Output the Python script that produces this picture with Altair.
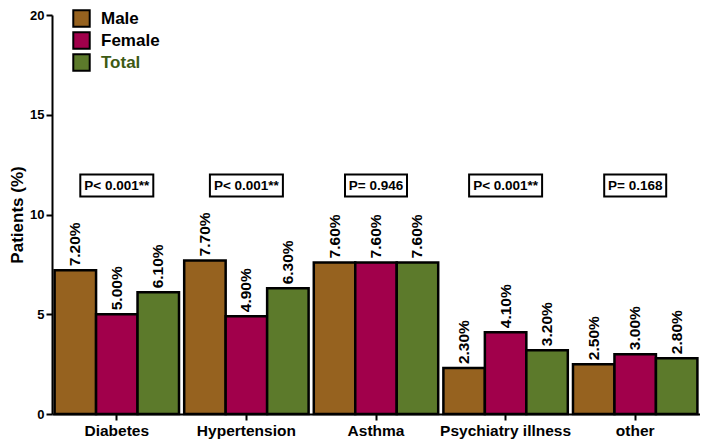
import altair as alt
import pandas as pd

categories = ["Diabetes", "Hypertension", "Asthma", "Psychiatry illness", "other"]
groups = ["Male", "Female", "Total"]
male = [7.2, 7.7, 7.6, 2.3, 2.5]
female = [5.0, 4.9, 7.6, 4.1, 3.0]
total = [6.1, 6.3, 7.6, 3.2, 2.8]
p_values = ["P< 0.001**", "P< 0.001**", "P= 0.946", "P< 0.001**", "P= 0.168"]
y_ticks = [0, 5, 10, 15, 20]

colors = ["#96621f", "#a1004b", "#5c7a2b"]
FONT = "Liberation Sans"

# annotation level of the p-value boxes (data units)
P_LOW, P_MID, P_HIGH = 10.9, 11.45, 12.0

rows = []
for i, c in enumerate(categories):
    for g, vals in zip(groups, [male, female, total]):
        rows.append({"category": c, "group": g, "value": vals[i]})
df = pd.DataFrame(rows)
pdf = pd.DataFrame({"category": categories, "p": p_values})

x_enc = alt.X(
    "category:N",
    sort=categories,
    scale=alt.Scale(paddingInner=0.04, paddingOuter=0.02),
    axis=alt.Axis(
        title=None, labelAngle=0, labelFont=FONT, labelFontSize=15.5,
        labelFontWeight="bold", labelColor="black", labelPadding=3,
        domainColor="black", domainWidth=2, tickColor="black", tickWidth=2,
        tickSize=6,
    ),
)
y_scale = alt.Scale(domain=[0, 20], nice=False)

bars = alt.Chart(df).mark_bar(stroke="black", strokeWidth=2.5).encode(
    x=x_enc,
    xOffset=alt.XOffset("group:N", sort=groups, scale=alt.Scale(paddingInner=0, paddingOuter=0)),
    y=alt.Y(
        "value:Q", scale=y_scale,
        axis=alt.Axis(
            title="Patients (%)", values=y_ticks, grid=False, titleFont=FONT,
            titleFontSize=17, titleFontWeight="bold", titleColor="black",
            titlePadding=3, labelFont=FONT, labelFontSize=13,
            labelFontWeight="bold", labelColor="black", labelPadding=2,
            domainColor="black", domainWidth=2, tickColor="black",
            tickWidth=2, tickSize=6,
        ),
    ),
    color=alt.Color(
        "group:N", sort=groups,
        scale=alt.Scale(domain=groups, range=colors),
        legend=alt.Legend(
            title=None, orient="none", legendX=20, legendY=-6, padding=0,
            symbolType="square", symbolSize=270, symbolStrokeColor="black",
            symbolStrokeWidth=2, symbolOpacity=1, labelFont=FONT,
            labelFontSize=17, labelFontWeight="bold",
            labelColor=alt.ExprRef("datum.label == 'Total' ? '#3d5a14' : 'black'"),
            labelOffset=10, rowPadding=-3,
        ),
    ),
)

labels = alt.Chart(df).transform_calculate(
    lab="format(datum.value, '.2f') + '%'"
).mark_text(
    angle=270, align="left", baseline="middle", dx=4, font=FONT,
    fontSize=15.5, fontWeight="bold", color="black",
).encode(
    x=alt.X("category:N", sort=categories),
    xOffset=alt.XOffset("group:N", sort=groups),
    y=alt.Y("value:Q", scale=y_scale),
    text="lab:N",
)

box_wide = alt.Chart(pdf).transform_filter("indexof(datum.p, '<') >= 0").mark_bar(
    width=73, fill="white", stroke="black", strokeWidth=2
).encode(
    x=alt.X("category:N", sort=categories),
    y=alt.datum(P_LOW), y2=alt.datum(P_HIGH),
)
box_narrow = alt.Chart(pdf).transform_filter("indexof(datum.p, '<') < 0").mark_bar(
    width=62, fill="white", stroke="black", strokeWidth=2
).encode(
    x=alt.X("category:N", sort=categories),
    y=alt.datum(P_LOW), y2=alt.datum(P_HIGH),
)
ptext = alt.Chart(pdf).mark_text(
    font=FONT, fontSize=13.5, fontWeight="bold", color="black", baseline="middle"
).encode(
    x=alt.X("category:N", sort=categories),
    y=alt.datum(P_MID),
    text="p:N",
)

chart = alt.layer(bars, labels, box_wide, box_narrow, ptext).properties(
    width=648, height=399,
    autosize=alt.AutoSizeParams(type="none"),
    padding={"left": 44, "top": 7, "right": 0, "bottom": 26},
).configure_view(stroke=None).configure_axis(
    grid=False
)

chart.save("out.html", embed_options={"renderer": "svg", "actions": False})
